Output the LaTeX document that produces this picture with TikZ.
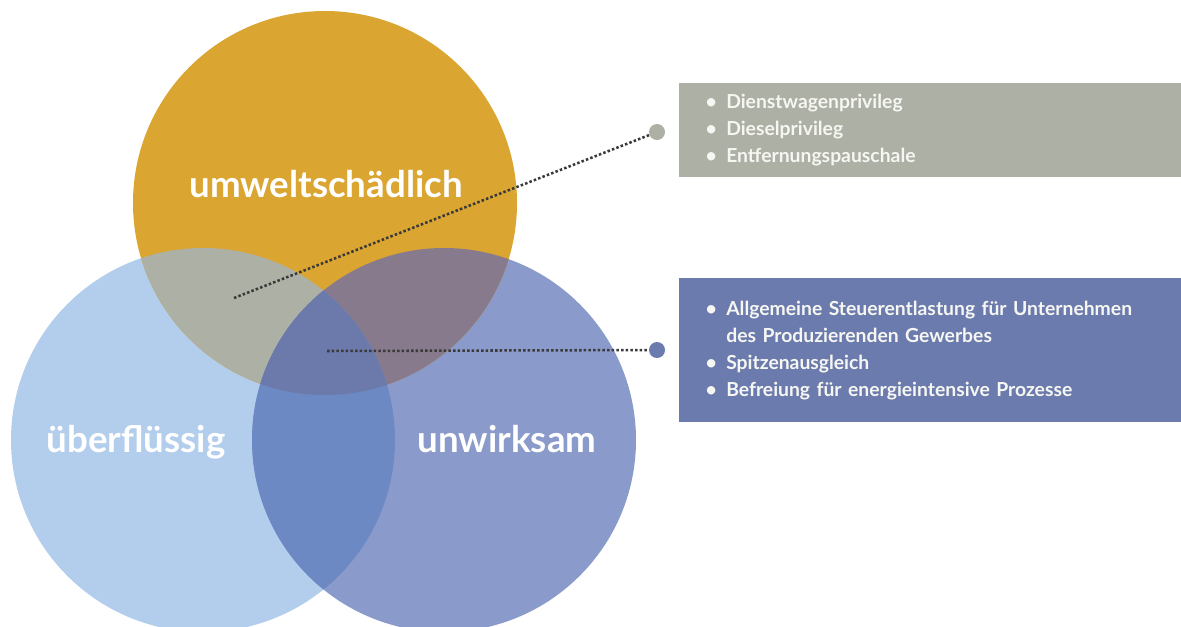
\documentclass[tikz,border=0pt]{standalone}
\usepackage{fontspec}
\setmainfont{Lato}
\usepackage{tikz}
\usetikzlibrary{positioning,calc}
\definecolor{cOrange}{HTML}{DBA531}
\definecolor{cLight}{HTML}{B3CEEC}
\definecolor{cPurple}{HTML}{8A9ACB}
\definecolor{cOL}{HTML}{ADB0A5}
\definecolor{cOP}{HTML}{877A8C}
\definecolor{cLP}{HTML}{6C89C4}
\definecolor{cAll}{HTML}{6B7AAB}
\definecolor{cBoxA}{HTML}{ADB0A5}
\definecolor{cBoxB}{HTML}{6C7BAD}
\definecolor{cLine}{HTML}{3A3A3A}
\definecolor{cTxt}{HTML}{F6F6F2}
\newcommand{\bul}{\makebox[16.5pt][l]{\hspace{1pt}\textbullet}}
\newcommand{\ind}{\hspace*{16.5pt}}
\tikzset{
  lbl/.style={text=white,font=\fontsize{27.5}{32}\selectfont\bfseries,anchor=base},
  lst/.style={rectangle,anchor=north west,minimum width=376.5pt,inner xsep=18.75pt,inner ysep=0pt,text width=339pt,align=left,text=cTxt,font=\fontsize{14.5}{20.25}\selectfont\bfseries},
  dt/.style={circle,minimum size=12pt,inner sep=0pt},
  con/.style={cLine,line width=1.9pt,dash pattern=on 1.9pt off 1.6pt},
}
\begin{document}
\begin{tikzpicture}[x=0.75pt,y=-0.75pt]
  \useasboundingbox (0,0) rectangle (1181,626);
  % circles
  \coordinate (cU) at (325,203);
  \coordinate (cB) at (203,440);
  \coordinate (cW) at (444,440);
  \fill[cLight] (cB) circle[radius=144pt];
  \fill[cPurple] (cW) circle[radius=144pt];
  \fill[cOrange] (cU) circle[radius=144pt];
  \begin{scope}
    \clip (cU) circle[radius=144pt];
    \fill[cOL] (cB) circle[radius=144pt];
    \fill[cOP] (cW) circle[radius=144pt];
  \end{scope}
  \begin{scope}
    \clip (cB) circle[radius=144pt];
    \fill[cLP] (cW) circle[radius=144pt];
    \clip (cW) circle[radius=144pt];
    \fill[cAll] (cU) circle[radius=144pt];
  \end{scope}
  % labels
  \node[lbl] (umw) at (326,197) {umweltschädlich};
  \node[lbl] (ueb) at (136,452) {überflüssig};
  \node[lbl] (unw) at (507,452) {unwirksam};
  % boxes
  \node[lst,fill=cBoxA,minimum height=70.5pt] (boxA) at (679,83) {\bul Dienstwagenprivileg\\ \bul Dieselprivileg\\ \bul Entfernungspauschale};
  \node[lst,fill=cBoxB,minimum height=108pt] (boxB) at (679,278) {\bul Allgemeine Steuerentlastung für Unternehmen\\ \ind des Produzierenden Gewerbes\\ \bul Spitzenausgleich\\ \bul Befreiung für energieintensive Prozesse};
  % connectors
  \node[dt,fill=cBoxA] (dA) at (657,132) {};
  \node[dt,fill=cBoxB] (dB) at (657,350) {};
  \coordinate (pA) at (234,298);
  \coordinate (pB) at (327,351);
  \draw[con] (pA) -- (dA);
  \draw[con] (pB) -- (dB);
\end{tikzpicture}
\end{document}
